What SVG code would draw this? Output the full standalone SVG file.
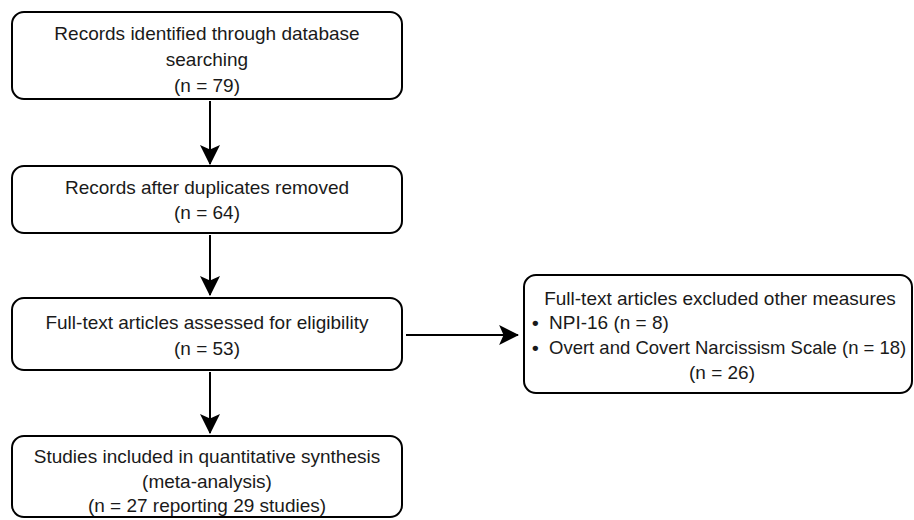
<svg xmlns="http://www.w3.org/2000/svg" width="914" height="520" viewBox="0 0 914 520">
<style>
.box{fill:#fff;stroke:#000;stroke-width:2}
.t{font-family:"Liberation Sans",Arial,sans-serif;font-size:19px;fill:#1a1a1a;text-anchor:middle}
.l{text-anchor:start}
.b{font-weight:bold}
.s{font-size:18.5px}
.c{stroke:#000;stroke-width:2;fill:none}
</style>
<defs>
<marker id="ah" markerUnits="userSpaceOnUse" markerWidth="20" markerHeight="20" viewBox="0 0 18 18" refX="17" refY="9" orient="auto">
<path d="M0,0 L18,9 L0,18 L4,9 Z" fill="#000"/>
</marker>
</defs>
<rect width="914" height="520" fill="#fff"/>
<g id="n1">
<rect class="box" x="12" y="12" width="390" height="87" rx="12"/>
<text class="t" x="207" y="40">Records identified through database</text>
<text class="t" x="207" y="66">searching</text>
<text class="t" x="207" y="92">(n = 79)</text>
</g>
<g id="n2">
<rect class="box" x="12" y="166" width="390" height="67" rx="12"/>
<text class="t" x="207" y="194">Records after duplicates removed</text>
<text class="t" x="207" y="219">(n = 64)</text>
</g>
<g id="n3">
<rect class="box" x="12" y="298" width="390" height="72" rx="12"/>
<text class="t" x="207" y="329">Full-text articles assessed for eligibility</text>
<text class="t" x="207" y="355">(n = 53)</text>
</g>
<g id="n4">
<rect class="box" x="12" y="436" width="390" height="81" rx="12"/>
<text class="t" x="207" y="463">Studies included in quantitative synthesis</text>
<text class="t" x="207" y="488">(meta-analysis)</text>
<text class="t" x="207" y="512">(n = 27 reporting 29 studies)</text>
</g>
<g id="n5">
<rect class="box" x="524" y="275" width="388" height="118" rx="12"/>
<text class="t" x="720" y="305">Full-text articles excluded other measures</text>
<text class="t l b" x="532" y="329">•</text>
<text class="t l" x="549" y="329">NPI-16 (n = 8)</text>
<text class="t l b" x="532" y="354">•</text>
<text class="t l s" x="549" y="354">Overt and Covert Narcissism Scale (n = 18)</text>
<text class="t" x="722" y="379">(n = 26)</text>
</g>
<g id="connectors">
<line class="c" x1="210" y1="101" x2="210" y2="164" marker-end="url(#ah)"/>
<line class="c" x1="210" y1="235" x2="210" y2="295" marker-end="url(#ah)"/>
<line class="c" x1="210" y1="372" x2="210" y2="433" marker-end="url(#ah)"/>
<line class="c" x1="406" y1="335" x2="518" y2="335" marker-end="url(#ah)"/>
</g>
</svg>
